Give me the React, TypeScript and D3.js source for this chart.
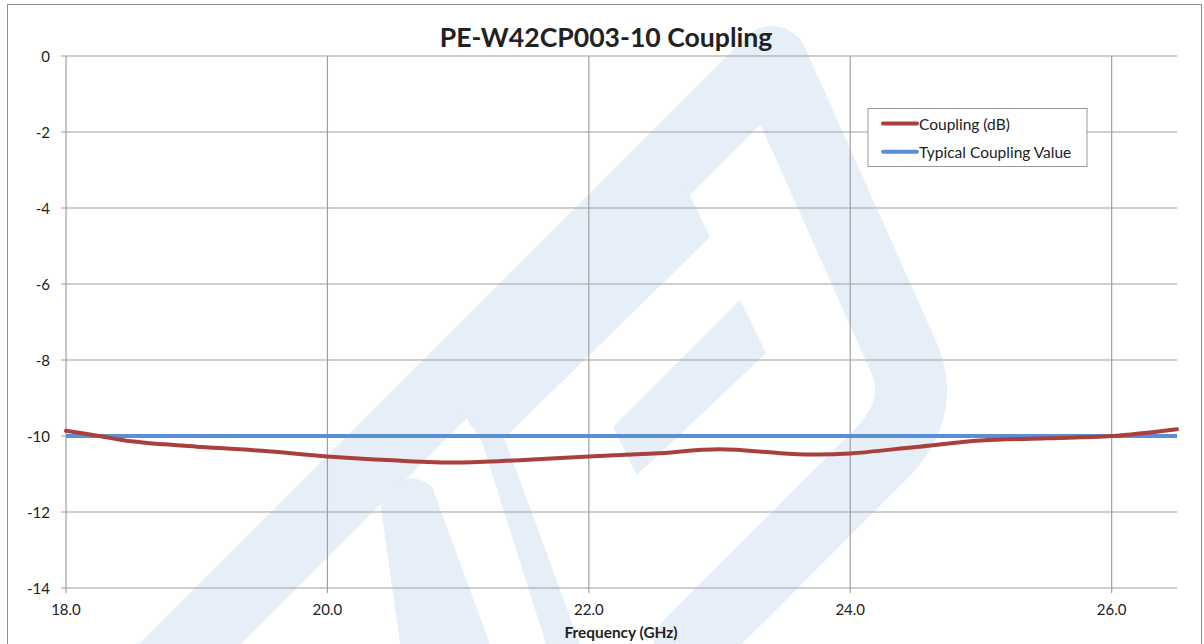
import React from "react";
import * as d3 from "d3";

const freqGHz = [18.0, 18.25, 18.5, 18.75, 19.0, 19.5, 20.0, 20.5, 21.0, 21.5, 22.0, 22.5, 23.0, 23.5, 23.75, 24.0, 24.5, 25.0, 25.5, 26.0, 26.5];
const couplingDb = [-9.86, -10.0, -10.14, -10.22, -10.28, -10.39, -10.54, -10.64, -10.7, -10.63, -10.54, -10.46, -10.35, -10.46, -10.49, -10.46, -10.29, -10.12, -10.06, -10.0, -9.82];
const typicalFreq = [18.0, 26.5];
const typicalDb = [-10, -10];
const xTicks = [18, 20, 22, 24, 26];
const yTicks = [0, -2, -4, -6, -8, -10, -12, -14];
const seriesNames = ["Coupling (dB)", "Typical Coupling Value"];
const seriesColors = ["#ab3f3c", "#5a8fd6"];

const W = 1204;
const H = 644;
const M = { left: 66, right: 1177, top: 56, bottom: 588 };
const FONT = "Lato, 'Open Sans', sans-serif";
const WM = "#e6eef7";

export default function App() {
  const x = d3.scaleLinear().domain([18, 26.5]).range([M.left, M.right]);
  const y = d3.scaleLinear().domain([-14, 0]).range([M.bottom, M.top]);
  const line = d3
    .line<number>()
    .x((_, i) => x(freqGHz[i]))
    .y((d) => y(d))
    .curve(d3.curveCatmullRom.alpha(0.5));
  const tline = d3
    .line<number>()
    .x((_, i) => x(typicalFreq[i]))
    .y((d) => y(d));

  return (
    <svg width={W} height={H} style={{ position: "absolute", left: 0, top: 0, background: "#fff" }} fontFamily={FONT}>
      <rect x={0} y={0} width={W} height={H} fill="#fff" />
      {/* watermark */}
      <g fill={WM} stroke="none">
        <path d="M 134 700 L 772 62 L 905 360 Q 925 410 880 455 L 690 645" fill="none" stroke={WM} strokeWidth={72} strokeLinejoin="round" strokeLinecap="round" />
        <polygon points="684,183 710,237 490,452 459,408" />
        <polygon points="740,300 766,353 637,475 613,427" />
        <path d="M 380 500 Q 405 465 432 487 L 490 644 L 400 644 Z" />
        <polygon points="475,420 505,440 580,644 546,644" />
      </g>
      <text x={8} y={-5} fontSize={20} fontWeight="bold" fill="#111">Typical</text>
      <rect x={7.5} y={4.5} width={1194} height={700} fill="none" stroke="#8c8c8c" strokeWidth={1} />
      {/* grid */}
      <g stroke="#a0a0a0" strokeWidth={1.2}>
        {yTicks.map((t) => (
          <line key={"y" + t} x1={M.left - 5} x2={M.right} y1={y(t)} y2={y(t)} />
        ))}
        {xTicks.map((t) => (
          <line key={"x" + t} x1={x(t)} x2={x(t)} y1={M.top} y2={M.bottom + 5} />
        ))}
      </g>
      <g fontSize={15} fill="#222">
        {yTicks.map((t) => (
          <text key={"yl" + t} x={50} y={y(t)} textAnchor="end" dominantBaseline="central">
            {t}
          </text>
        ))}
        {xTicks.map((t) => (
          <text key={"xl" + t} x={x(t)} y={615} textAnchor="middle">
            {t.toFixed(1)}
          </text>
        ))}
      </g>
      <text x={621} y={638} textAnchor="middle" fontSize={15.4} fontWeight="bold" fill="#222">
        Frequency (GHz)
      </text>
      <text x={606} y={47} textAnchor="middle" fontSize={26.6} fontWeight="bold" fill="#222">
        PE-W42CP003-10 Coupling
      </text>
      <path d={tline(typicalDb) || ""} fill="none" stroke={seriesColors[1]} strokeWidth={4} />
      <path d={line(couplingDb) || ""} fill="none" stroke={seriesColors[0]} strokeWidth={4} strokeLinecap="round" />
      {/* legend */}
      <rect x={868} y={108.5} width={219} height={58} fill="#fff" stroke="#999" strokeWidth={1} />
      {seriesNames.map((n, i) => (
        <g key={n}>
          <line x1={883} x2={917} y1={123.5 + i * 28.3} y2={123.5 + i * 28.3} stroke={seriesColors[i]} strokeWidth={4} strokeLinecap="round" />
          <text x={919} y={123.5 + i * 28.3} dominantBaseline="central" fontSize={15.5} fill="#222">
            {n}
          </text>
        </g>
      ))}
    </svg>
  );
}
